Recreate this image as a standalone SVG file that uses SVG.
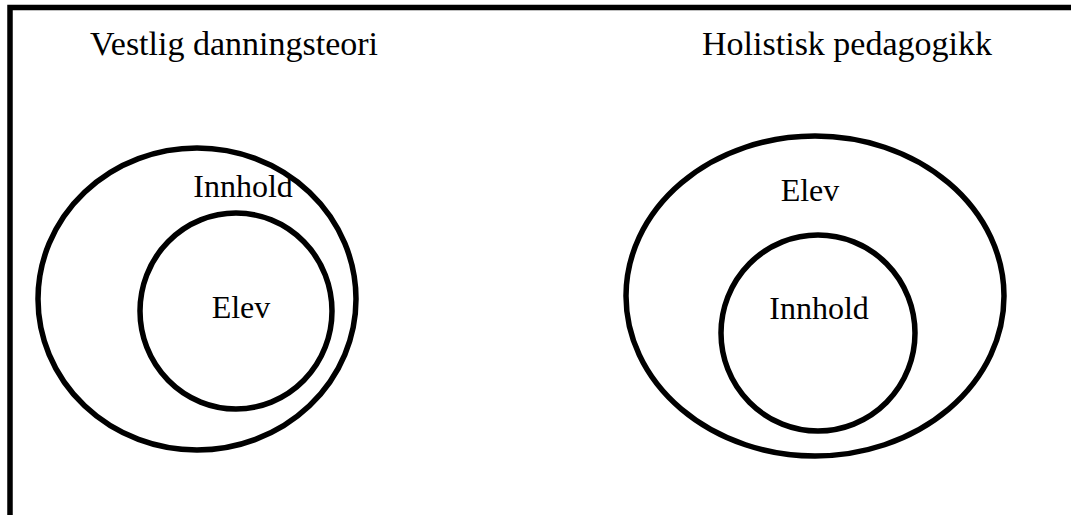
<svg xmlns="http://www.w3.org/2000/svg" width="1071" height="515" viewBox="0 0 1071 515">
<style>
.b{fill:none;stroke:#000;stroke-width:5.5}
.t{font-family:"Liberation Serif",serif;fill:#000}
.h{font-size:34px}
.l{font-size:32px}
</style>
<rect width="1071" height="515" fill="#fff"/>
<g id="frame"><path class="b" d="M10,515 V7.5 H1071"/></g>
<g id="title-left"><text class="t h" x="90" y="55">Vestlig danningsteori</text></g>
<g id="title-right"><text class="t h" x="992" y="55" text-anchor="end">Holistisk pedagogikk</text></g>
<g id="left-outer"><ellipse class="b" cx="197" cy="299" rx="159" ry="151"/><text class="t l" x="243" y="197" text-anchor="middle">Innhold</text></g>
<g id="left-inner"><ellipse class="b" cx="236" cy="311" rx="96" ry="98"/><text class="t l" x="241" y="318" text-anchor="middle">Elev</text></g>
<g id="right-outer"><ellipse class="b" cx="815" cy="296" rx="189" ry="160"/><text class="t l" x="810" y="201" text-anchor="middle">Elev</text></g>
<g id="right-inner"><ellipse class="b" cx="818" cy="333" rx="97" ry="98"/><text class="t l" x="819" y="319" text-anchor="middle">Innhold</text></g>
<g id="connectors"></g>
</svg>
